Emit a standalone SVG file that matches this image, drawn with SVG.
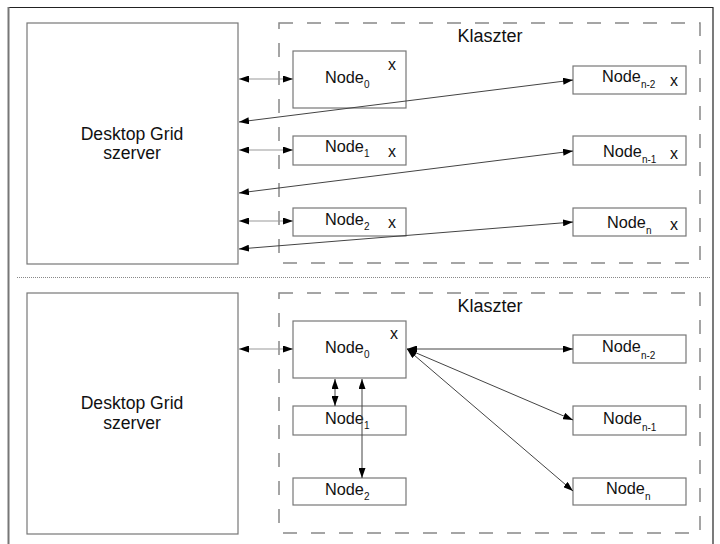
<svg xmlns="http://www.w3.org/2000/svg" width="720" height="544" viewBox="0 0 720 544">
<style>
text{font-family:"Liberation Sans",Arial,sans-serif;fill:#111}
.box{fill:#fff;stroke:#777;stroke-width:1.2}
.clu{fill:none;stroke:#888;stroke-width:1.5;stroke-dasharray:14 14}
.lbl{font-size:17.6px;text-anchor:middle}
.nd{font-size:16.3px}
.sub{font-size:10px}
.x{font-size:16px}
.ar{stroke:#444;stroke-width:1;fill:none;marker-start:url(#ah);marker-end:url(#ah)}
.arh{stroke:#999;stroke-width:1.2;fill:none;marker-start:url(#ah);marker-end:url(#ah)}
</style>
<defs>
<marker id="ah" viewBox="0 0 10 7" refX="10" refY="3.5" markerWidth="10" markerHeight="7" markerUnits="userSpaceOnUse" orient="auto-start-reverse"><path d="M0,0 L10,3.5 L0,7 z" fill="#000"/></marker>
</defs>
<rect width="720" height="544" fill="#fff"/>
<g id="frame">
<line x1="8" y1="7.5" x2="713" y2="7.5" stroke="#222" stroke-width="1.2"/>
<line x1="8.5" y1="7" x2="8.5" y2="544" stroke="#777" stroke-width="2"/>
<line x1="713" y1="7" x2="713" y2="544" stroke="#222" stroke-width="1.2"/>
<line x1="17" y1="277.5" x2="710" y2="277.5" stroke="#888" stroke-width="1" stroke-dasharray="1 1"/>
</g>
<!-- top half -->
<g id="server1"><rect class="box" x="27" y="23" width="211" height="241"/>
<text class="lbl" x="132" y="140">Desktop Grid</text><text class="lbl" x="132" y="159">szerver</text></g>
<g id="cluster1"><rect class="clu" x="279" y="23" width="421" height="240"/>
<text class="lbl" x="490" y="42" style="font-size:18px">Klaszter</text></g>
<g id="t-node0"><rect class="box" x="293" y="51" width="113" height="57"/>
<text class="nd" x="325" y="83">Node<tspan class="sub" dy="5">0</tspan></text><text class="x" x="388" y="70">x</text></g>
<g id="t-node1"><rect class="box" x="293" y="136" width="113" height="29"/>
<text class="nd" x="325" y="152">Node<tspan class="sub" dy="5">1</tspan></text><text class="x" x="388" y="157">x</text></g>
<g id="t-node2"><rect class="box" x="293" y="208" width="113" height="28"/>
<text class="nd" x="325" y="225">Node<tspan class="sub" dy="5">2</tspan></text><text class="x" x="388" y="228">x</text></g>
<g id="t-noden2"><rect class="box" x="573" y="66" width="113" height="28"/>
<text class="nd" x="602" y="82">Node<tspan class="sub" dy="6">n-2</tspan></text><text class="x" x="670" y="86">x</text></g>
<g id="t-noden1"><rect class="box" x="573" y="136" width="113" height="29"/>
<text class="nd" x="603" y="157">Node<tspan class="sub" dy="6">n-1</tspan></text><text class="x" x="670" y="159">x</text></g>
<g id="t-noden"><rect class="box" x="573" y="208" width="113" height="28"/>
<text class="nd" x="607" y="228">Node<tspan class="sub" dy="6">n</tspan></text><text class="x" x="670" y="230">x</text></g>
<!-- bottom half -->
<g id="server2"><rect class="box" x="27" y="293" width="211" height="241"/>
<text class="lbl" x="132" y="409">Desktop Grid</text><text class="lbl" x="132" y="429">szerver</text></g>
<g id="cluster2"><rect class="clu" x="279" y="293" width="421" height="240"/>
<text class="lbl" x="490" y="312" style="font-size:18px">Klaszter</text></g>
<g id="b-node0"><rect class="box" x="293" y="321" width="113" height="57"/>
<text class="nd" x="325" y="353">Node<tspan class="sub" dy="5">0</tspan></text><text class="x" x="390" y="339">x</text></g>
<g id="b-node1"><rect class="box" x="293" y="406" width="113" height="29"/>
<text class="nd" x="325" y="424">Node<tspan class="sub" dy="5">1</tspan></text></g>
<g id="b-node2"><rect class="box" x="293" y="478" width="113" height="27"/>
<text class="nd" x="325" y="495">Node<tspan class="sub" dy="5">2</tspan></text></g>
<g id="b-noden2"><rect class="box" x="573" y="335" width="113" height="28"/>
<text class="nd" x="602" y="352">Node<tspan class="sub" dy="7">n-2</tspan></text></g>
<g id="b-noden1"><rect class="box" x="573" y="406" width="113" height="29"/>
<text class="nd" x="603" y="424">Node<tspan class="sub" dy="7">n-1</tspan></text></g>
<g id="b-noden"><rect class="box" x="573" y="478" width="113" height="27"/>
<text class="nd" x="606" y="494">Node<tspan class="sub" dy="6">n</tspan></text></g>
<g id="connectors">
<line class="arh" x1="239" y1="79" x2="293" y2="79"/>
<line class="arh" x1="239" y1="150" x2="293" y2="150"/>
<line class="arh" x1="239" y1="221" x2="293" y2="221"/>
<line class="ar" x1="239" y1="122" x2="573" y2="80"/>
<line class="ar" x1="239" y1="193" x2="573" y2="151"/>
<line class="ar" x1="239" y1="249" x2="573" y2="222"/>
<line class="arh" x1="239" y1="349" x2="293" y2="349"/>
<line class="ar" x1="335" y1="379" x2="335" y2="406"/>
<line class="ar" x1="362" y1="379" x2="362" y2="478"/>
<line class="ar" x1="407" y1="349" x2="573" y2="349"/>
<line class="ar" x1="407" y1="349" x2="573" y2="420"/>
<line class="ar" x1="407" y1="349" x2="573" y2="491"/>
</g>
</svg>
